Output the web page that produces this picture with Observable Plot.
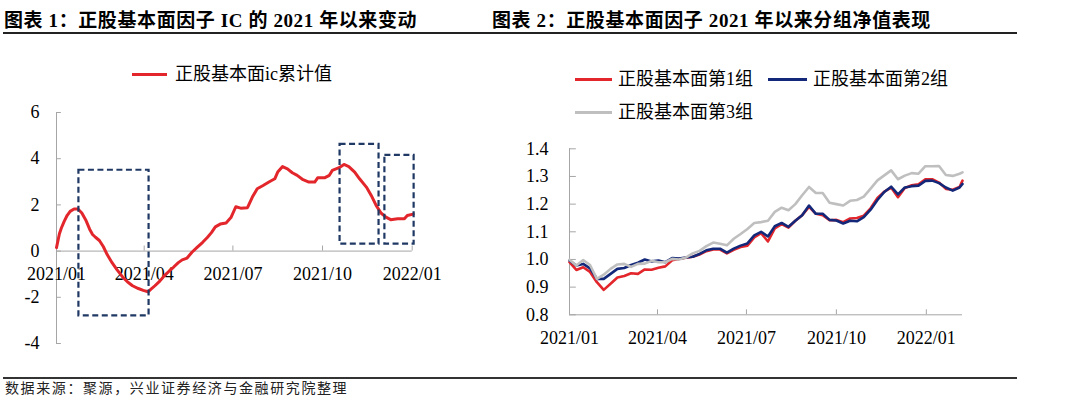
<!DOCTYPE html>
<html><head><meta charset="utf-8">
<script src="https://cdn.jsdelivr.net/npm/d3@7"></script>
<script src="https://cdn.jsdelivr.net/npm/@observablehq/plot@0.6"></script>
<style>
body{margin:0;background:#fff;}
#wrap{position:relative;width:1080px;height:400px;overflow:hidden;font-family:"Liberation Serif","Noto Sans CJK SC",serif;color:#000;}
.t{position:absolute;white-space:nowrap;}
.title{font-size:19px;font-weight:bold;line-height:19px;top:11px;letter-spacing:0.6px;}
.leg{font-size:18px;line-height:18px;}
.sw{position:absolute;height:3px;}
.hr{position:absolute;left:3px;width:1014px;}
.plot{position:absolute;top:0;}
</style></head><body><div id="wrap">
<div class="t title" style="left:4px">图表 1：正股基本面因子 IC 的 2021 年以来变动</div>
<div class="t title" style="left:492px">图表 2：正股基本面因子 2021 年以来分组净值表现</div>
<div class="hr" style="top:32px;height:1.5px;background:#222"></div>
<div class="hr" style="top:377px;height:2px;background:#333"></div>
<div class="t" style="left:5px;top:381px;font-size:14px;line-height:16px;letter-spacing:1.6px;color:#222">数据来源：聚源，兴业证券经济与金融研究院整理</div>
<div id="left" class="plot" style="left:0"></div>
<div id="right" class="plot" style="left:500px"></div>
<div class="sw" style="left:132px;top:72.5px;width:35px;background:#e3262b"></div>
<div class="t leg" style="left:175px;top:65px">正股基本面ic累计值</div>
<div class="sw" style="left:575px;top:77.5px;width:37px;background:#e3262b"></div>
<div class="t leg" style="left:618px;top:70px">正股基本面第1组</div>
<div class="sw" style="left:768px;top:77.5px;width:39px;background:#14287a"></div>
<div class="t leg" style="left:813px;top:70px">正股基本面第2组</div>
<div class="sw" style="left:575px;top:110.5px;width:37px;background:#bfbfbf"></div>
<div class="t leg" style="left:618px;top:103px">正股基本面第3组</div>
</div>
<script>
// ---------- Chart 1: cumulative IC ----------
const icDates = ["2021-01-01","2021-01-04","2021-01-06","2021-01-09","2021-01-12","2021-01-15","2021-01-19","2021-01-23","2021-01-27","2021-01-31","2021-02-04","2021-02-07","2021-02-10","2021-02-14","2021-02-18","2021-02-22","2021-02-27","2021-03-04","2021-03-10","2021-03-15","2021-03-20","2021-03-26","2021-03-31","2021-04-05","2021-04-08","2021-04-12","2021-04-17","2021-04-22","2021-04-27","2021-05-01","2021-05-06","2021-05-10","2021-05-15","2021-05-20","2021-05-25","2021-05-31","2021-06-05","2021-06-09","2021-06-13","2021-06-18","2021-06-24","2021-06-29","2021-07-04","2021-07-09","2021-07-16","2021-07-21","2021-07-26","2021-08-01","2021-08-07","2021-08-13","2021-08-16","2021-08-21","2021-08-26","2021-08-31","2021-09-05","2021-09-11","2021-09-17","2021-09-23","2021-09-26","2021-10-03","2021-10-08","2021-10-11","2021-10-18","2021-10-23","2021-10-28","2021-11-03","2021-11-08","2021-11-15","2021-11-20","2021-11-25","2021-11-30","2021-12-05","2021-12-10","2021-12-17","2021-12-24","2021-12-27","2022-01-02"];
const icValues = [0.15,0.75,1.0,1.3,1.55,1.72,1.82,1.82,1.65,1.35,0.95,0.72,0.6,0.46,0.2,-0.15,-0.5,-0.8,-1.13,-1.34,-1.5,-1.62,-1.7,-1.76,-1.65,-1.5,-1.3,-1.05,-0.85,-0.7,-0.5,-0.38,-0.3,-0.05,0.15,0.38,0.6,0.8,1.05,1.17,1.22,1.45,1.92,1.86,1.88,2.34,2.7,2.84,2.99,3.13,3.42,3.66,3.56,3.39,3.28,3.09,2.99,2.99,3.17,3.17,3.28,3.49,3.61,3.75,3.66,3.42,3.13,2.77,2.41,1.98,1.65,1.47,1.36,1.4,1.4,1.54,1.6];
const boxStart = ["2021-01-24","2021-10-19","2021-12-04"];
const boxEnd = ["2021-04-06","2021-11-28","2022-01-03"];
const boxTop = [3.5, 4.62, 4.14];
const boxBottom = [-2.8, 0.3, 0.3];
const leftYTicks = [-4,-2,0,2,4,6];
const xTickDates = ["2021-01-01","2021-04-01","2021-07-01","2021-10-01","2022-01-01"];
const xTickLabels = ["2021/01","2021/04","2021/07","2021/10","2022/01"];

// ---------- Chart 2: group NAV ----------
const navDates = ["2021-01-01","2021-01-08","2021-01-15","2021-01-22","2021-01-29","2021-02-05","2021-02-12","2021-02-19","2021-02-26","2021-03-05","2021-03-12","2021-03-19","2021-03-26","2021-04-02","2021-04-09","2021-04-16","2021-04-23","2021-04-30","2021-05-07","2021-05-14","2021-05-21","2021-05-28","2021-06-04","2021-06-11","2021-06-18","2021-06-25","2021-07-02","2021-07-09","2021-07-16","2021-07-23","2021-07-30","2021-08-06","2021-08-13","2021-08-20","2021-08-27","2021-09-03","2021-09-10","2021-09-17","2021-09-24","2021-10-01","2021-10-08","2021-10-15","2021-10-22","2021-10-29","2021-11-05","2021-11-12","2021-11-19","2021-11-26","2021-12-03","2021-12-10","2021-12-17","2021-12-24","2021-12-31","2022-01-07","2022-01-14","2022-01-21","2022-01-28","2022-02-04","2022-02-07"];
const group1 = [0.99,0.962,0.972,0.955,0.918,0.89,0.912,0.935,0.94,0.95,0.948,0.964,0.963,0.97,0.975,0.997,1.002,1.006,1.01,1.018,1.03,1.036,1.036,1.022,1.035,1.045,1.05,1.08,1.095,1.065,1.112,1.128,1.115,1.14,1.16,1.19,1.165,1.16,1.142,1.143,1.135,1.148,1.15,1.158,1.185,1.222,1.245,1.26,1.225,1.258,1.268,1.272,1.29,1.29,1.278,1.255,1.252,1.262,1.285];
const group2 = [0.996,0.978,0.984,0.968,0.93,0.93,0.948,0.966,0.969,0.98,0.988,1.0,0.993,0.996,0.99,1.005,1.003,1.007,1.01,1.02,1.033,1.039,1.039,1.025,1.039,1.05,1.058,1.087,1.1,1.083,1.12,1.132,1.118,1.14,1.16,1.195,1.165,1.165,1.143,1.141,1.13,1.14,1.138,1.153,1.18,1.215,1.244,1.263,1.235,1.26,1.265,1.267,1.284,1.285,1.276,1.26,1.249,1.26,1.273];
const group3 = [0.999,0.978,0.998,0.98,0.93,0.945,0.966,0.982,0.984,0.973,0.984,0.985,0.995,0.99,0.99,1.002,1.0,1.007,1.022,1.031,1.048,1.061,1.057,1.051,1.075,1.092,1.11,1.132,1.135,1.14,1.172,1.187,1.178,1.2,1.232,1.262,1.24,1.24,1.205,1.2,1.195,1.212,1.215,1.227,1.256,1.286,1.304,1.322,1.29,1.303,1.312,1.31,1.337,1.337,1.338,1.305,1.302,1.31,1.315];
const groupNames = ["正股基本面第1组","正股基本面第2组","正股基本面第3组"];
const groupColors = ["#e3262b","#14287a","#bfbfbf"];
const rightYTicks = [0.8,0.9,1.0,1.1,1.2,1.3,1.4];

const P = s => new Date(s + "T00:00:00Z");
const axisColor = "#a6a6a6";
const serif = "Liberation Serif";

// Left chart
const icData = icDates.map((d,i) => ({date: P(d), v: icValues[i]}));
const boxes = boxStart.map((d,i) => ({x1: P(d), x2: P(boxEnd[i]), y1: boxBottom[i], y2: boxTop[i]}));
const ticks = xTickDates.map((d,i) => ({date: P(d), label: xTickLabels[i]}));
const lStart = P("2021-01-01"), lEnd = P("2022-01-04");
const left = Plot.plot({
  width: 500, height: 400,
  marginLeft: 56, marginRight: 85.4, marginTop: 112, marginBottom: 57,
  x: {type: "utc", domain: [lStart, lEnd], axis: null},
  y: {domain: [-4, 6], axis: null},
  style: {background: "transparent", fontFamily: serif, overflow: "visible"},
  marks: [
    Plot.ruleX([lStart], {x: d => d, y1: -4, y2: 6, stroke: axisColor}),
    Plot.ruleY(leftYTicks, {y: d => d, x1: () => lStart, x2: () => P("2021-01-06"), stroke: axisColor}),
    Plot.ruleY([0], {y: d => d, x1: () => lStart, x2: () => P("2022-01-01"), stroke: axisColor}),
    Plot.ruleX(ticks, {x: "date", y1: 0, y2: 0.22, stroke: axisColor}),
    Plot.text(leftYTicks, {x: () => lStart, y: d => d, text: d => String(d), dx: -17, textAnchor: "end", fontSize: 18, fill: "#000"}),
    Plot.text(ticks, {x: "date", y: () => 0, text: "label", dy: 23, fontSize: 18, fill: "#000"}),
    Plot.line(icData, {x: "date", y: "v", stroke: "#e3262b", strokeWidth: 3, curve: "linear"}),
    Plot.rect(boxes, {x1: "x1", x2: "x2", y1: "y1", y2: "y2", fill: "none", stroke: "#1f3864", strokeWidth: 2.2, strokeDasharray: "6,3.5"})
  ]
});
document.getElementById("left").appendChild(left);

// Right chart
const rStart = P("2021-01-01"), rEnd = P("2022-02-07");
const navData = [];
[group1, group2, group3].forEach((arr, g) => arr.forEach((v, i) => navData.push({date: P(navDates[i]), v, g: groupNames[g]})));
const right = Plot.plot({
  width: 520, height: 400,
  marginLeft: 69, marginRight: 58, marginTop: 148.3, marginBottom: 85.7,
  x: {type: "utc", domain: [rStart, rEnd], axis: null},
  y: {domain: [0.8, 1.4], axis: null},
  color: {domain: groupNames, range: groupColors},
  style: {background: "transparent", fontFamily: serif, overflow: "visible"},
  marks: [
    Plot.ruleX([rStart], {x: d => d, y1: 0.8, y2: 1.4, stroke: axisColor}),
    Plot.ruleY(rightYTicks, {y: d => d, x1: () => rStart, x2: () => P("2021-01-08"), stroke: axisColor}),
    Plot.ruleY([0.8], {y: d => d, x1: () => rStart, x2: () => rEnd, stroke: axisColor}),
    Plot.ruleX(ticks, {x: "date", y1: 0.8, y2: 0.818, stroke: axisColor}),
    Plot.text(rightYTicks, {x: () => rStart, y: d => d, text: d => d.toFixed(1), dx: -21, textAnchor: "end", fontSize: 18, fill: "#000"}),
    Plot.text(ticks, {x: "date", y: () => 0.8, text: "label", dy: 23, fontSize: 18, fill: "#000"}),
    Plot.line(navData, {x: "date", y: "v", z: "g", stroke: "g", strokeWidth: 2.6})
  ]
});
document.getElementById("right").appendChild(right);
</script>
</body></html>
